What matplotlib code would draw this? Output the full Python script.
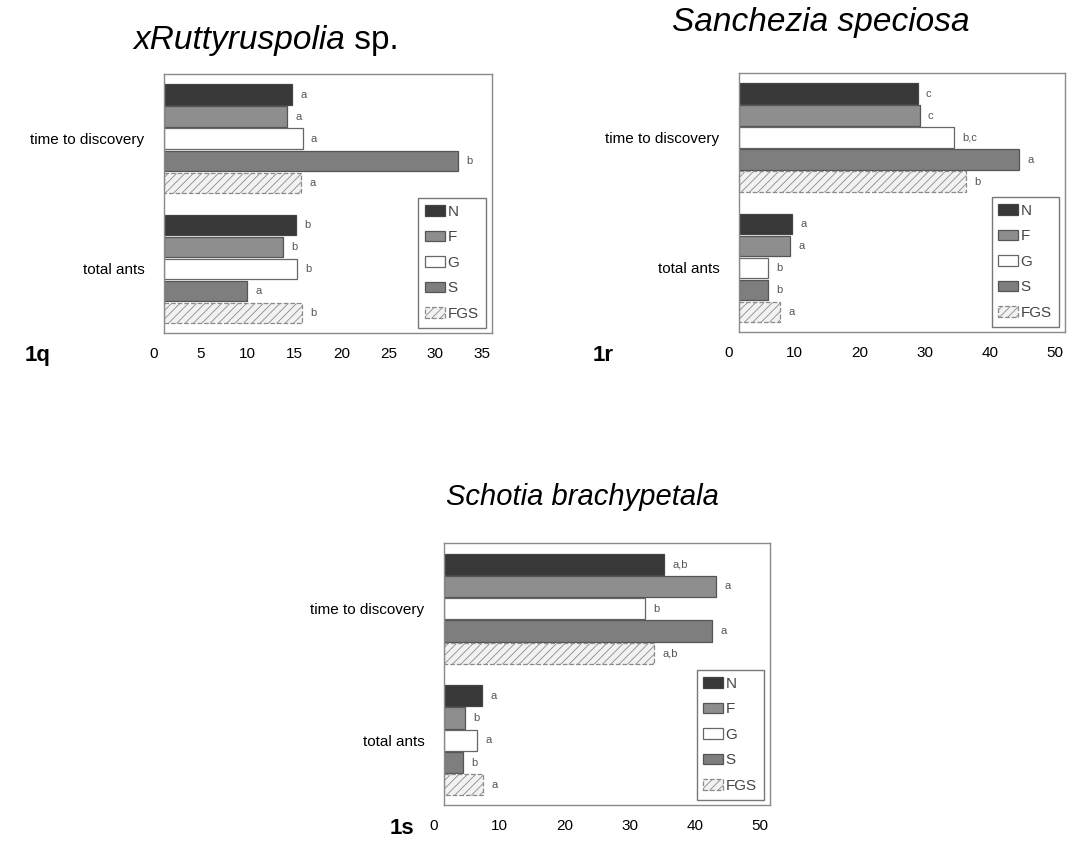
import matplotlib
matplotlib.use('Agg')
from matplotlib import pyplot as plt
from matplotlib import transforms
import numpy as np

plt.rcParams['font.family'] = ['Liberation Sans', 'DejaVu Sans']
plt.rcParams['hatch.linewidth'] = 0.6

# data
categories = ['time to discovery', 'total ants']
treatments = ['N', 'F', 'G', 'S', 'FGS']

ruttya_time = [13.7, 13.1, 14.8, 31.4, 14.6]
ruttya_ants = [14.1, 12.7, 14.2, 8.9, 14.7]
ruttya_time_sig = ['a', 'a', 'a', 'b', 'a']
ruttya_ants_sig = ['b', 'b', 'b', 'a', 'b']

sanchezia_time = [27.4, 27.7, 33.0, 43.0, 34.8]
sanchezia_ants = [8.2, 7.8, 4.4, 4.5, 6.3]
sanchezia_time_sig = ['c', 'c', 'b,c', 'a', 'b']
sanchezia_ants_sig = ['a', 'a', 'b', 'b', 'a']

schotia_time = [33.7, 41.7, 30.8, 41.1, 32.2]
schotia_ants = [5.8, 3.2, 5.1, 2.9, 6.0]
schotia_time_sig = ['a,b', 'a', 'b', 'a', 'a,b']
schotia_ants_sig = ['a', 'b', 'a', 'b', 'a']

# styles for each treatment
faces = ['#383838', '#8e8e8e', 'white', '#7e7e7e', '#f2f2f2']
edges = ['#444444', '#555555', '#666666', '#555555', '#8a8a8a']
hatches = [None, None, None, None, '////']
lstyles = ['-', '-', '-', '-', '--']

fig = plt.figure(figsize=(10.73, 8.5), dpi=100)


def draw_panel(rect, time_vals, ant_vals, time_sig, ant_sig, xmax, step):
    ax = fig.add_axes(rect)
    gap = 0.91
    for i in range(len(treatments)):
        ys = [0.5 + i, 5.5 + gap + i]
        vals = [time_vals[i], ant_vals[i]]
        ax.barh(ys, vals, height=0.95, color=faces[i], edgecolor=edges[i],
                linewidth=0.9, hatch=hatches[i], linestyle=lstyles[i],
                label=treatments[i])
        for y, v, s in zip(ys, vals, [time_sig[i], ant_sig[i]]):
            ax.annotate(s, (v, y), xytext=(6, 0), textcoords='offset points',
                        va='center', ha='left', fontsize=8, color='#555555')
    ax.set_ylim(11.32, -0.45)
    ax.set_xlim(0, xmax)
    ax.set_yticks([2.5, 5.5 + gap + 2])
    ax.set_yticklabels(categories, fontsize=11)
    ax.set_xticks(np.arange(0, xmax + 1, step))
    ax.tick_params(axis='y', length=0, pad=14)
    ax.tick_params(axis='x', length=0, pad=10, labelsize=11)
    # tick labels sit a little left of the frame in the original
    shift = transforms.ScaledTranslation(-0.1, 0, fig.dpi_scale_trans)
    for lab in ax.get_xticklabels():
        lab.set_transform(lab.get_transform() + shift)
    for sp in ax.spines.values():
        sp.set_color('#8a8a8a')
        sp.set_linewidth(1.0)
    leg = ax.legend(loc='lower right', bbox_to_anchor=(0.985, 0.015),
                    fontsize=11, handlelength=1.3, handleheight=0.7,
                    handletextpad=0.15, labelspacing=0.75, borderpad=0.45,
                    borderaxespad=0.1, fancybox=False, framealpha=1)
    leg.get_frame().set_edgecolor('#777777')
    leg.get_frame().set_linewidth(1.0)
    for t in leg.get_texts():
        t.set_color('#444444')
    return ax


draw_panel([0.1528, 0.6082, 0.3057, 0.3047], ruttya_time, ruttya_ants,
           ruttya_time_sig, ruttya_ants_sig, 35, 5)
draw_panel([0.6887, 0.6094, 0.3038, 0.3047], sanchezia_time, sanchezia_ants,
           sanchezia_time_sig, sanchezia_ants_sig, 50, 10)
draw_panel([0.4138, 0.0529, 0.3038, 0.3082], schotia_time, schotia_ants,
           schotia_time_sig, schotia_ants_sig, 50, 10)

# titles
t1 = fig.text(133 / 1073, 1 - 40 / 850, 'xRuttyruspolia', fontsize=24,
              style='italic', va='center', ha='left')
plt.annotate(' sp.', xy=(1, 0), xycoords=t1, va='bottom', ha='left',
             fontsize=24, annotation_clip=False)
fig.text(821 / 1073, 1 - 22 / 850, 'Sanchezia speciosa', fontsize=24,
         style='italic', va='center', ha='center')
fig.text(582 / 1073, 1 - 497 / 850, 'Schotia brachypetala', fontsize=21,
         style='italic', va='center', ha='center')

# panel labels
fig.text(38 / 1073, 1 - 355 / 850, '1q', fontsize=16, weight='bold',
         va='center', ha='center')
fig.text(603 / 1073, 1 - 355 / 850, '1r', fontsize=16, weight='bold',
         va='center', ha='center')
fig.text(402 / 1073, 1 - 828 / 850, '1s', fontsize=16, weight='bold',
         va='center', ha='center')

plt.savefig('out.png', dpi=100)
